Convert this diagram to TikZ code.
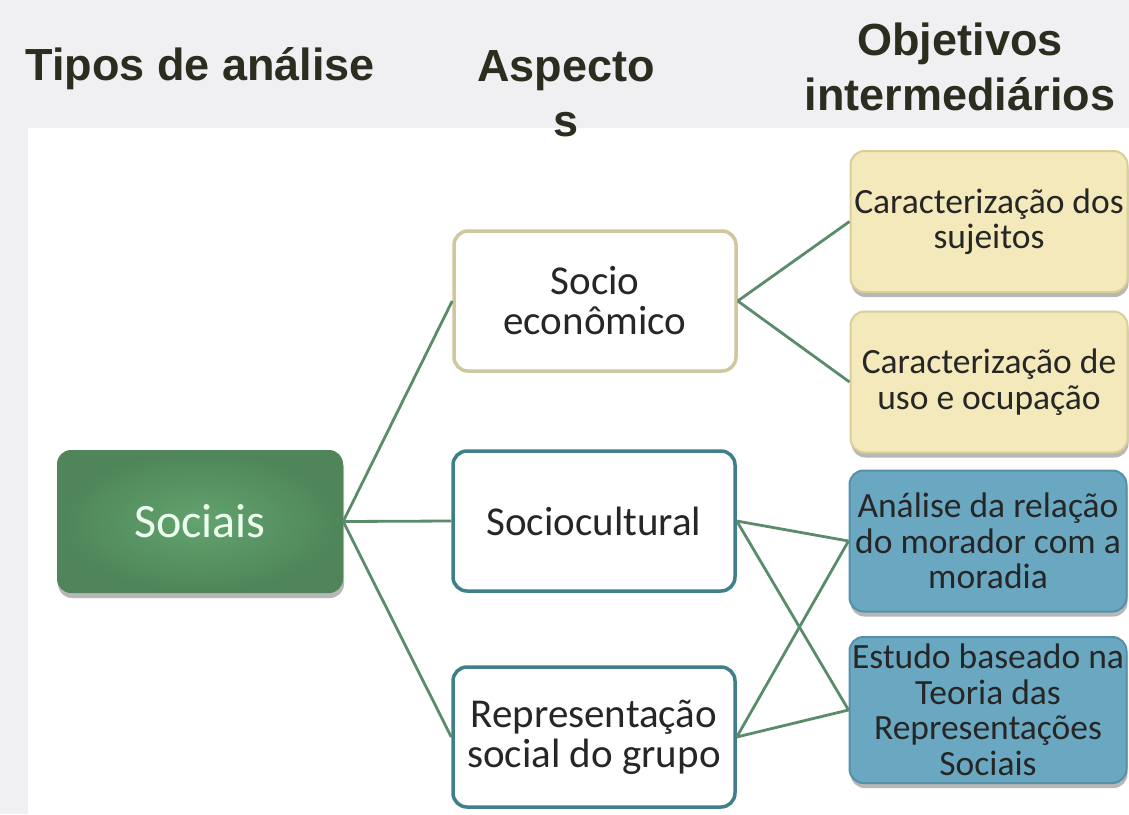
\documentclass[tikz,border=0pt]{standalone}
\usepackage{fontspec}
\setmainfont{Liberation Sans}
\newfontfamily\boxfont{Carlito}
\usetikzlibrary{shadows}

\definecolor{headtxt}{HTML}{2C2C1F}
\definecolor{pagegray}{HTML}{F0F0F3}
\definecolor{linkgreen}{HTML}{5A8C6C}
\definecolor{sociaisgreen}{HTML}{62A36E}
\definecolor{sociaisdark}{HTML}{4F8559}
\definecolor{tanline}{HTML}{CFC79E}
\definecolor{tealline}{HTML}{3E7F8A}
\definecolor{yellowfill}{HTML}{F3E9BA}
\definecolor{yellowline}{HTML}{DACD96}
\definecolor{bluefill}{HTML}{6AA8C2}
\definecolor{blueline}{HTML}{5490AA}

\tikzset{
  header/.style={font=\bfseries\fontsize{45}{55}\selectfont, text=headtxt, align=center, inner sep=0pt},
  box/.style={rectangle, rounded corners=14pt, align=center, inner sep=0pt, text=black!85},
  boxshadow/.style={drop shadow={shadow xshift=1pt, shadow yshift=-5pt, opacity=0.4, fill=black!70}},
  typebox/.style={box, boxshadow, shading=radial, inner color=sociaisgreen, outer color=sociaisdark,
    minimum width=286pt, minimum height=143pt, text=white!93!green, font=\boxfont\fontsize{48}{48}\selectfont},
  aspectbox/.style={box, fill=white, line width=3.5pt, minimum width=282pt, minimum height=140pt,
    font=\boxfont\fontsize{41}{40}\selectfont},
  goalbox/.style={box, boxshadow, line width=2pt, minimum width=277pt, minimum height=141pt,
    font=\boxfont\fontsize{35.5}{35.5}\selectfont},
  link/.style={draw=linkgreen, line width=2.8pt}
}

\begin{document}
\begin{tikzpicture}[x=1pt, y=-1pt]

    % 1. Page background and the white panel
    \fill[pagegray] (0,0) rectangle (1129,814);
    \fill[white] (28,128) rectangle (1129,814);
    \useasboundingbox (0,0) rectangle (1129,814);

    % 2. Column headers (base anchor sits on the last line)
    \node[header, anchor=base] (htipos) at (200,80) {Tipos de análise};
    \node[header, anchor=base] (haspectos) at (566,136) {Aspecto\\s};
    \node[header, anchor=base] (hobjetivos) at (960,110) {Objetivos\\intermediários};

    % 3. Type of analysis
    \node[typebox] (sociais) at (200,521.5) {Sociais};

    % 4. Aspects
    \node[aspectbox, draw=tanline] (socio) at (595,301) {Socio\\econômico};
    \node[aspectbox, draw=tealline] (sociocult) at (594,521) {Sociocultural};
    \node[aspectbox, draw=tealline] (represent) at (594,737) {Representação\\social do grupo};

    % 5. Intermediate objectives
    \node[goalbox, fill=yellowfill, draw=yellowline] (sujeitos) at (989,221.5) {Caracterização dos\\sujeitos};
    \node[goalbox, fill=yellowfill, draw=yellowline] (ocupacao) at (989,382) {Caracterização de\\uso e ocupação};
    \node[goalbox, fill=bluefill, draw=blueline] (moradia) at (988,541) {Análise da relação\\do morador com a\\moradia};
    \node[goalbox, fill=bluefill, draw=blueline, minimum height=146pt] (teoria) at (988,710) {Estudo baseado na\\Teoria das\\Representações\\Sociais};

    % 6. Connectors
    \draw[link] (sociais.east) -- (socio.west);
    \draw[link] (sociais.east) -- (sociocult.west);
    \draw[link] (sociais.east) -- (represent.west);
    \draw[link] (socio.east) -- (sujeitos.west);
    \draw[link] (socio.east) -- (ocupacao.west);
    \draw[link] (sociocult.east) -- (moradia.west);
    \draw[link] (sociocult.east) -- (teoria.west);
    \draw[link] (represent.east) -- (moradia.west);
    \draw[link] (represent.east) -- (teoria.west);

\end{tikzpicture}
\end{document}
